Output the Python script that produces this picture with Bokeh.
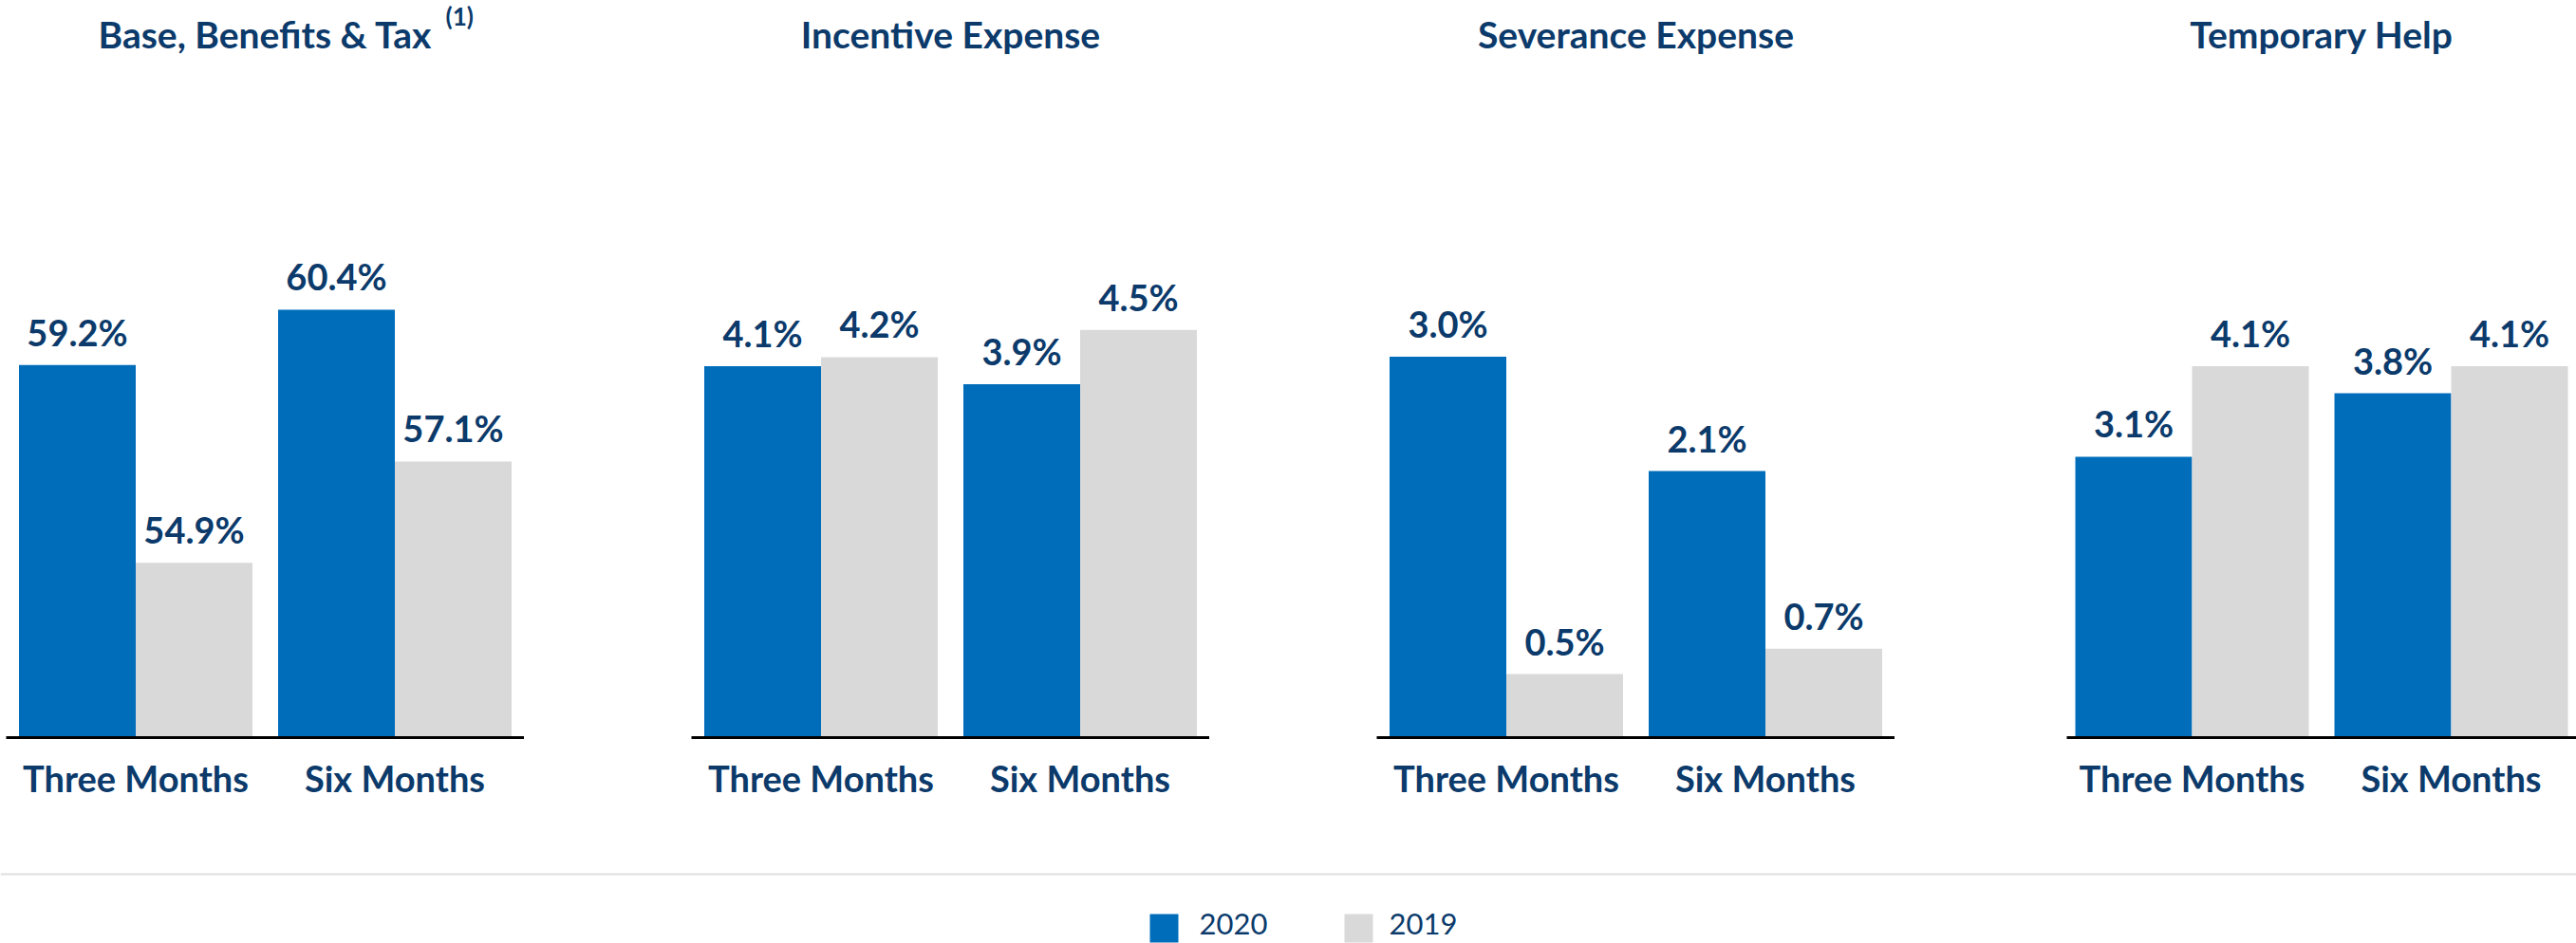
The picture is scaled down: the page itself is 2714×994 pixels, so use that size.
from bokeh.plotting import figure
from bokeh.models import FactorRange, Range1d, ColumnDataSource, Label, Span
from bokeh.transform import dodge
from bokeh.layouts import row, column
from bokeh.embed import file_html
from bokeh.resources import INLINE
from bokeh.core.properties import value

# ---------------- data ----------------
panel_titles = ["Base, Benefits & Tax", "Incentive Expense", "Severance Expense", "Temporary Help"]
title_notes = ["(1)", "", "", ""]
periods = ["Three Months", "Six Months"]
years = ["2020", "2019"]

base_2020 = [59.2, 60.4]
base_2019 = [54.9, 57.1]
incentive_2020 = [4.1, 3.9]
incentive_2019 = [4.2, 4.5]
severance_2020 = [3.0, 2.1]
severance_2019 = [0.5, 0.7]
temp_2020 = [3.1, 3.8]
temp_2019 = [4.1, 4.1]

y_starts = [51.1, 0.0, 0.0, 0.0]
y_ends = [67.12, 8.136, 5.807, 8.136]

# ---------------- style ----------------
C2020 = "#006DBB"
C2019 = "#D9D9D9"
NAVY = "#0B3A6B"
FONT = "Lato"

FRAME_H = 777
BOTTOM = 103
UNIT_PX = 273.0
BAR_W = 123.0 / UNIT_PX
# (min_border_left, frame width)
geoms = [(6, 546), (176, 546), (176, 546), (181, 537)]

series_2020 = [base_2020, incentive_2020, severance_2020, temp_2020]
series_2019 = [base_2019, incentive_2019, severance_2019, temp_2019]

figs = []
for i, title in enumerate(panel_titles):
    bl, fw = geoms[i]
    rp = (fw - 2 * UNIT_PX) / 2.0 / UNIT_PX
    ys, ye = y_starts[i], y_ends[i]
    scale = FRAME_H / (ye - ys)
    p = figure(width=bl + fw, height=FRAME_H + BOTTOM,
               x_range=FactorRange(*periods, range_padding=rp, range_padding_units="absolute"),
               y_range=Range1d(ys, ye),
               output_backend="svg", toolbar_location=None, tools="",
               y_axis_location=None,
               min_border_left=bl, min_border_right=0, min_border_top=0,
               min_border_bottom=BOTTOM, outline_line_color=None)
    p.xgrid.visible = False
    p.ygrid.visible = False

    src = ColumnDataSource(dict(
        period=periods,
        v2020=series_2020[i],
        v2019=series_2019[i],
        l2020=["%.1f%%" % v for v in series_2020[i]],
        l2019=["%.1f%%" % v for v in series_2019[i]],
    ))
    off = BAR_W / 2.0
    p.vbar(x=dodge("period", -off, range=p.x_range), top="v2020", bottom=ys,
           width=BAR_W, source=src, fill_color=C2020, line_color=None)
    p.vbar(x=dodge("period", off, range=p.x_range), top="v2019", bottom=ys,
           width=BAR_W, source=src, fill_color=C2019, line_color=None)
    for key, o in (("2020", -off), ("2019", off)):
        p.text(x=dodge("period", o, range=p.x_range), y="v" + key, text="l" + key,
               source=src, text_align="center", text_baseline="alphabetic",
               y_offset=-35, text_font=value(FONT), text_font_size=value("38px"),
               text_font_style="bold", text_color=NAVY)

    ax = p.xaxis[0]
    ax.axis_line_width = 3
    ax.axis_line_color = "#000000"
    ax.major_tick_line_color = None
    ax.minor_tick_line_color = None
    ax.major_tick_out = 0
    ax.major_tick_in = 0
    ax.major_label_standoff = 19
    ax.major_label_text_font = FONT
    ax.major_label_text_font_size = "38px"
    ax.major_label_text_font_style = "bold"
    ax.major_label_text_color = NAVY

    p.add_layout(Label(x=1.0, y=ye - 35.0 / scale, text=title, text_align="center",
                       text_baseline="alphabetic", text_font=FONT, text_font_size="39px",
                       text_font_style="bold", text_color=NAVY))
    if title_notes[i]:
        p.add_layout(Label(x=1.0, x_offset=190, y=ye - 16.0 / scale, text=title_notes[i],
                           text_align="left", text_baseline="alphabetic", text_font=FONT,
                           text_font_size="26px", text_font_style="bold", text_color=NAVY))
    figs.append(p)

# ---------------- legend strip ----------------
LW, LH = 2714, 114
lf = figure(width=LW, height=LH, x_range=Range1d(0, LW), y_range=Range1d(0, LH),
            output_backend="svg", toolbar_location=None, tools="",
            x_axis_location=None, y_axis_location=None, min_border=0,
            outline_line_color=None)
lf.xgrid.visible = False
lf.ygrid.visible = False
lf.add_layout(Span(location=73, dimension="width", line_color="#DEDEDE", line_width=2))

legend_src = ColumnDataSource(dict(
    year=years,
    color=[C2020, C2019],
    sx=[1226, 1431],
    tx=[1263, 1463],
))
lf.rect(x="sx", y=16, width=30, height=30, source=legend_src,
        fill_color="color", line_color=None)
lf.text(x="tx", y=21, text="year", source=legend_src, text_align="left",
        text_baseline="alphabetic", text_font=value(FONT), text_font_size=value("31px"),
        text_color=NAVY)

layout = column(row(*figs, spacing=0), lf, spacing=0)
open("out.html", "w").write(file_html(layout, INLINE))
